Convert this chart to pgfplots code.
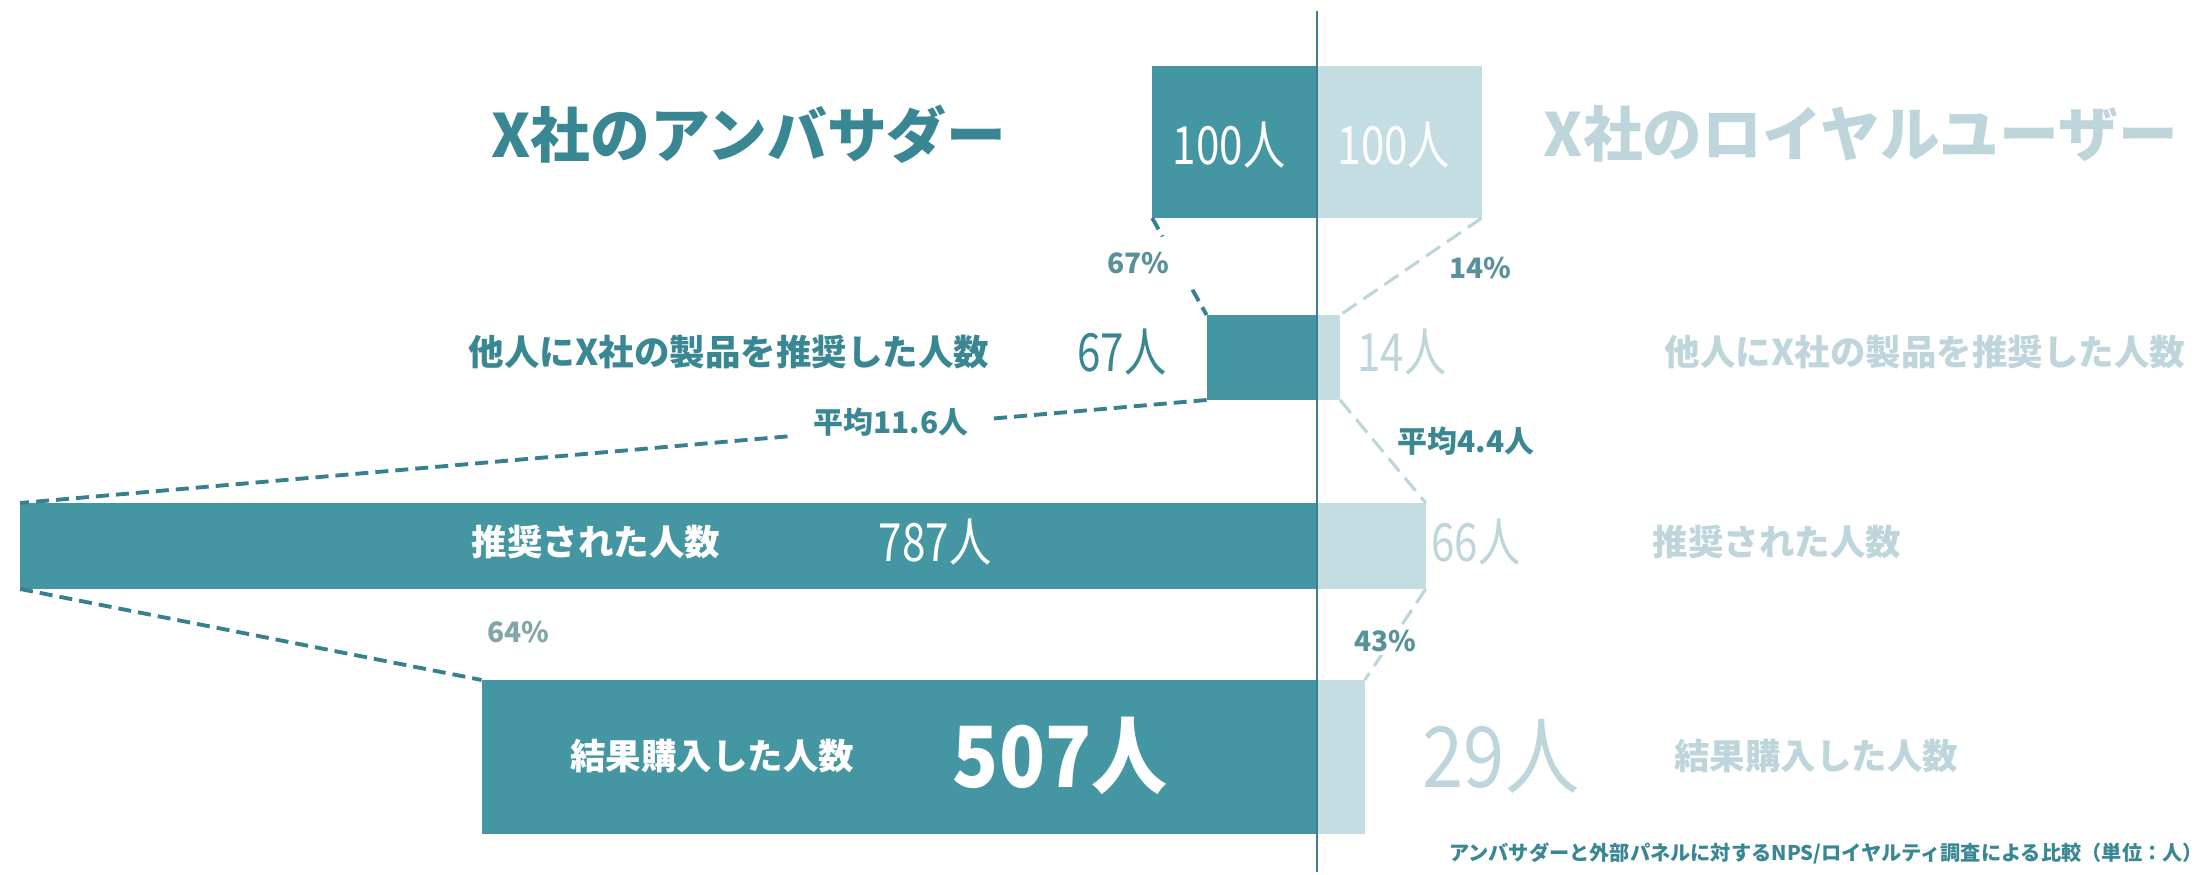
\documentclass[border=0pt]{standalone}
\usepackage{fontspec}
\setmainfont{Noto Sans CJK JP}
\usepackage{pgfplots}
\pgfplotsset{compat=1.18}
\usetikzlibrary{calc}
\definecolor{darkbar}{RGB}{69,150,163}
\definecolor{lightbar}{RGB}{196,221,226}
\definecolor{darktext}{RGB}{58,135,148}
\definecolor{lighttext}{RGB}{190,214,219}
\definecolor{pcttext}{RGB}{88,145,155}
\definecolor{graypct}{RGB}{130,165,172}
\definecolor{centerline}{RGB}{62,125,145}
\definecolor{dashdark}{RGB}{55,128,142}
\newcommand{\fs}[1]{\fontsize{#1}{#1}\selectfont}
\begin{document}
\begin{tikzpicture}
\begin{axis}[width=22.08cm,height=8.74cm,scale only axis,
  xmin=-799.2,xmax=540.7,ymin=0,ymax=874,hide axis,clip=false]
\path (rel axis cs:0,0) rectangle (rel axis cs:1,1);
% ambassador (left, negative)
\addplot[xbar,bar shift=0pt,bar width=152,fill=darkbar,draw=none] coordinates {(-100,732)};
\addplot[xbar,bar shift=0pt,bar width=85,fill=darkbar,draw=none] coordinates {(-67,516.5)};
\addplot[xbar,bar shift=0pt,bar width=86,fill=darkbar,draw=none] coordinates {(-787,328)};
\addplot[xbar,bar shift=0pt,bar width=154,fill=darkbar,draw=none] coordinates {(-507,117)};
% loyal users (right)
\addplot[xbar,bar shift=0pt,bar width=152,fill=lightbar,draw=none] coordinates {(100,732)};
\addplot[xbar,bar shift=0pt,bar width=85,fill=lightbar,draw=none] coordinates {(14,516.5)};
\addplot[xbar,bar shift=0pt,bar width=86,fill=lightbar,draw=none] coordinates {(66,328)};
\addplot[xbar,bar shift=0pt,bar width=154,fill=lightbar,draw=none] coordinates {(29,117)};
% centre line
\draw[centerline,line width=0.6pt] (axis cs:0,2) -- (axis cs:0,863);
% dashed connectors, left
\draw[dashdark,line width=1.1pt,dash pattern=on 3.7pt off 2pt]
  (axis cs:-100,656) -- ($(axis cs:-100,656)!0.19!(axis cs:-67,559)$);
\draw[dashdark,line width=1.1pt,dash pattern=on 3.7pt off 2pt]
  ($(axis cs:-100,656)!0.74!(axis cs:-67,559)$) -- (axis cs:-67,559);
\draw[dashdark,line width=1.1pt,dash pattern=on 3.7pt off 2pt]
  (axis cs:-67,474) -- (axis cs:-787,371);
\draw[dashdark,line width=1.1pt,dash pattern=on 3.7pt off 2pt]
  (axis cs:-787,285) -- (axis cs:-507,194);
% dashed connectors, right
\draw[lighttext,line width=0.9pt,dash pattern=on 4.8pt off 2.4pt]
  (axis cs:100,656) -- (axis cs:14,559);
\draw[lighttext,line width=0.9pt,dash pattern=on 4.8pt off 2.4pt]
  (axis cs:14,474) -- (axis cs:66,371);
\draw[lighttext,line width=0.9pt,dash pattern=on 4.8pt off 2.4pt]
  (axis cs:66,285) -- (axis cs:29,194);
% titles
\node[text=darktext,font=\fs{17pt}\bfseries] at (axis cs:-344.7,740) {X社のアンバサダー};
\node[text=lighttext,font=\fs{17pt}\bfseries] at (axis cs:330,740) {X社のロイヤルユーザー};
% row 1
\node[text=white,font=\fs{15pt}] at (axis cs:-53.4,729) {\scalebox{0.8}[1]{100人}};
\node[text=white,font=\fs{15pt}] at (axis cs:46.7,729) {\scalebox{0.8}[1]{100人}};
\node[text=pcttext,font=\fs{8pt}\bfseries] at (axis cs:-108.6,611) {67\%};
\node[text=pcttext,font=\fs{8pt}\bfseries] at (axis cs:98.9,606) {14\%};
% row 2
\node[text=darktext,font=\fs{10.1pt}\bfseries] at (axis cs:-356.8,522) {他人にX社の製品を推奨した人数};
\node[text=darktext,font=\fs{15pt}] at (axis cs:-118.3,522) {\scalebox{0.8}[1]{67人}};
\node[text=lighttext,font=\fs{15pt}] at (axis cs:51.6,522) {\scalebox{0.8}[1]{14人}};
\node[text=lighttext,font=\fs{10.1pt}\bfseries] at (axis cs:369,522) {他人にX社の製品を推奨した人数};
\node[fill=white,inner xsep=0.22cm,text=darktext,font=\fs{8.5pt}\bfseries] at (axis cs:-258.5,452) {平均11.6人};
\node[text=darktext,font=\fs{8.5pt}\bfseries] at (axis cs:90.4,433) {平均4.4人};
% row 3
\node[text=white,font=\fs{10.1pt}\bfseries] at (axis cs:-437.5,332) {推奨された人数};
\node[text=white,font=\fs{15pt}] at (axis cs:-231.8,332) {\scalebox{0.8}[1]{787人}};
\node[text=lighttext,font=\fs{15pt}] at (axis cs:96.5,332) {\scalebox{0.8}[1]{66人}};
\node[text=lighttext,font=\fs{10.1pt}\bfseries] at (axis cs:279,332) {推奨された人数};
\node[text=graypct,font=\fs{8pt}\bfseries] at (axis cs:-484.8,242) {64\%};
\node[fill=white,inner sep=1pt,text=pcttext,font=\fs{8pt}\bfseries] at (axis cs:41.3,233) {43\%};
% row 4
\node[text=white,font=\fs{10.1pt}\bfseries] at (axis cs:-367,118) {結果購入した人数};
\node[text=white,font=\fs{24pt}\bfseries] at (axis cs:-155.9,118) {\scalebox{0.9}[1]{507人}};
\node[text=lighttext,font=\fs{24pt}] at (axis cs:111.7,118) {\scalebox{0.88}[1]{29人}};
\node[text=lighttext,font=\fs{10.1pt}\bfseries] at (axis cs:303,118) {結果購入した人数};
% footnote
\node[anchor=east,inner sep=0pt,text=darktext,font=\fs{5.75pt}\bfseries] at (axis cs:538,21) {アンバサダーと外部パネルに対するNPS/ロイヤルティ調査による比較（単位：人）};
\end{axis}
\end{tikzpicture}
\end{document}
